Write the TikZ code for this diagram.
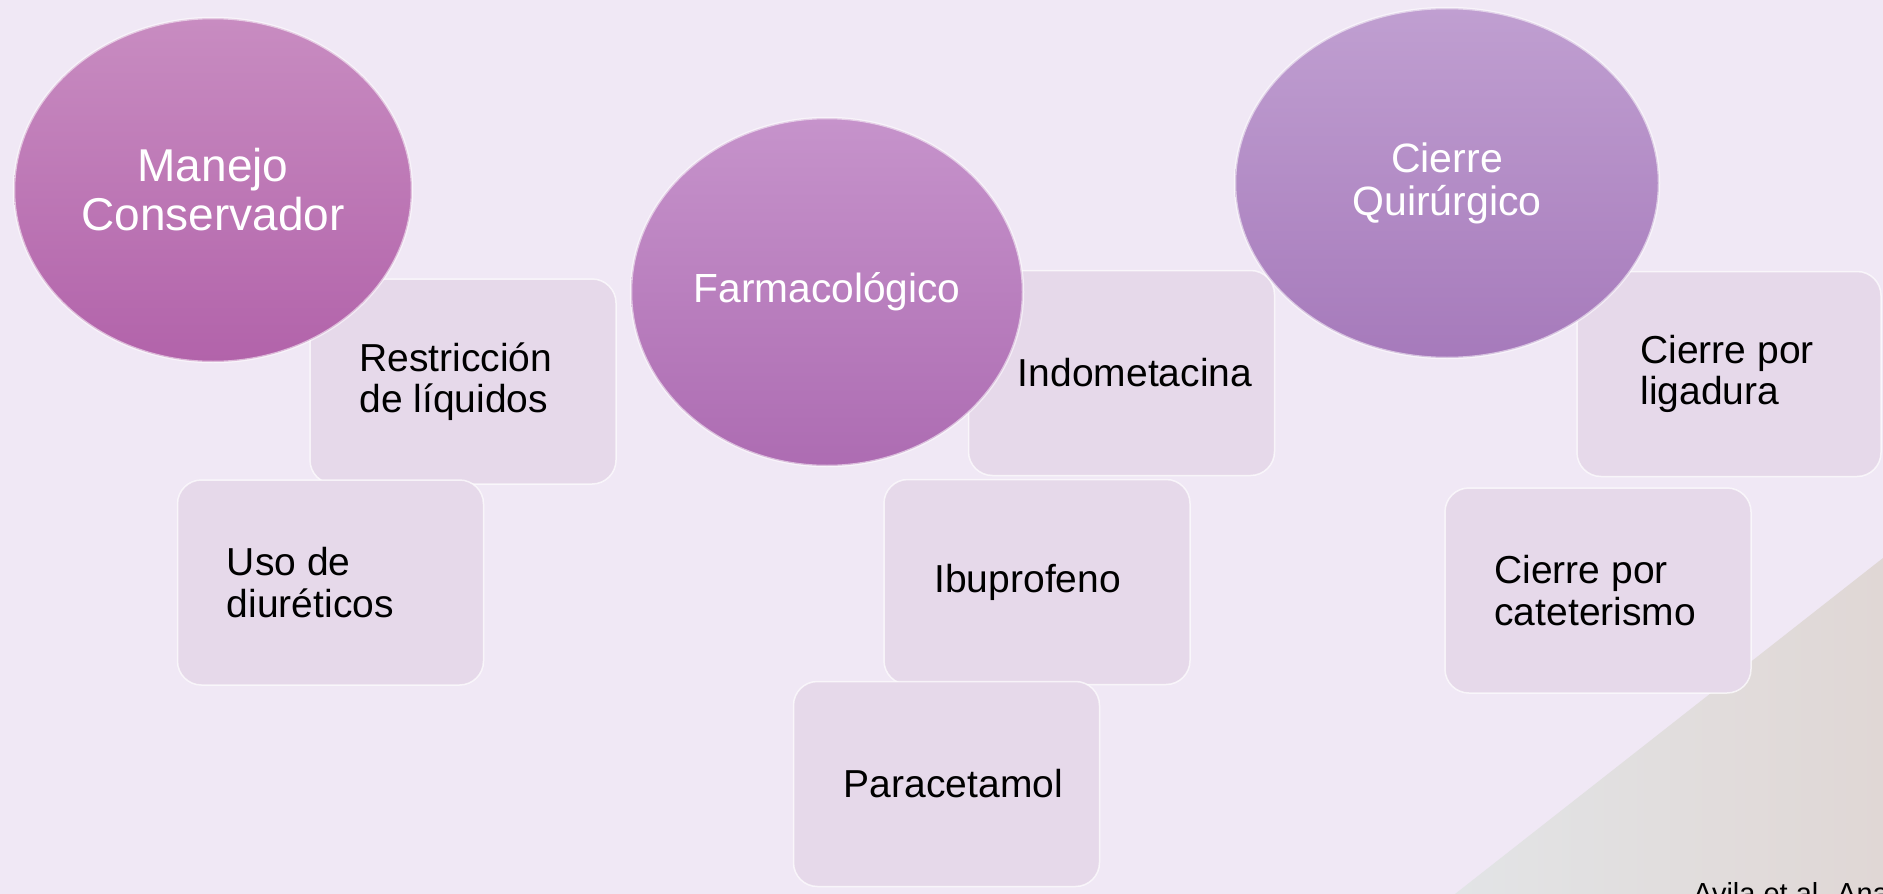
\documentclass[tikz,border=0pt]{standalone}
\usepackage{fontspec}
\setmainfont{Liberation Sans}
\usetikzlibrary{shapes.geometric}
\definecolor{bgcol}{HTML}{F0E8F5}
\definecolor{boxfill}{HTML}{E6D9EA}
\definecolor{triL}{HTML}{E2E4E6}
\definecolor{triR}{HTML}{E0D7D5}
\definecolor{eAtop}{HTML}{C88CC1}
\definecolor{eAbot}{HTML}{B263AA}
\definecolor{eBtop}{HTML}{C693CB}
\definecolor{eBbot}{HTML}{AD6CB2}
\definecolor{eCtop}{HTML}{C09FD1}
\definecolor{eCbot}{HTML}{A67ABB}
\tikzset{
  bubble/.style={ellipse, inner sep=0pt, draw=white, draw opacity=0.55, line width=2.5pt,
    text=white, align=center},
  itembox/.style={rectangle, rounded corners=24pt, minimum width=306pt, minimum height=205pt,
    inner sep=0pt, fill=boxfill, draw=white, draw opacity=0.7, line width=1.5pt},
  itemtext/.style={anchor=west, inner sep=0pt, align=left, text=black,
    font=\fontsize{39}{41.5}\selectfont},
}
\begin{document}
\begin{tikzpicture}[x=1pt,y=-1pt]
\useasboundingbox (0,0) rectangle (1883,894);
\clip (0,0) rectangle (1883,894);
\fill[bgcol] (0,0) rectangle (1883,894);
\shade[left color=triL, right color=triR] (1455,894) -- (1883,558) -- (1883,894) -- cycle;

% boxes
\node[itembox] (b1) at (463,381.5) {};
\node[itembox] (b2) at (330.5,582.5) {};
\node[itembox] (b3) at (1121.5,373) {};
\node[itembox] (b4) at (1037,582) {};
\node[itembox] (b5) at (946.5,784) {};
\node[itembox, minimum width=304pt] (b6) at (1729,374) {};
\node[itembox] (b7) at (1598,590.5) {};

\node[itemtext] (t1) at ([xshift=50pt]b1.west) {Restricción\\de líquidos};
\node[itemtext] (t2) at ([xshift=50pt]b2.west) {Uso de\\diuréticos};
\node[itemtext] (t3) at ([xshift=50pt]b3.west) {Indometacina};
\node[itemtext] (t4) at ([xshift=51pt]b4.west) {Ibuprofeno};
\node[itemtext] (t5) at ([xshift=51pt]b5.west) {Paracetamol};
\node[itemtext] (t6) at ([xshift=64pt]b6.west) {Cierre por\\ligadura};
\node[itemtext] (t7) at ([xshift=50pt]b7.west) {Cierre por\\cateterismo};

% ellipses
\node[bubble, minimum width=398pt, minimum height=344pt, top color=eAtop, bottom color=eAbot,
  font=\fontsize{46}{49}\selectfont] (e1) at (213,190) {Manejo\\Conservador};
\node[bubble, minimum width=392pt, minimum height=348pt, top color=eBtop, bottom color=eBbot,
  font=\fontsize{40.7}{43}\selectfont] (e2) at (827,292) {Farmacológico};
\node[bubble, minimum width=424pt, minimum height=350pt, top color=eCtop, bottom color=eCbot,
  font=\fontsize{41}{43}\selectfont] (e3) at (1447,183) {Cierre\\Quirúrgico};

\node[anchor=base west, inner sep=0pt, font=\fontsize{29}{32}\selectfont] (cite) at (1693,903) {Avila et al. Ana};
\end{tikzpicture}
\end{document}
